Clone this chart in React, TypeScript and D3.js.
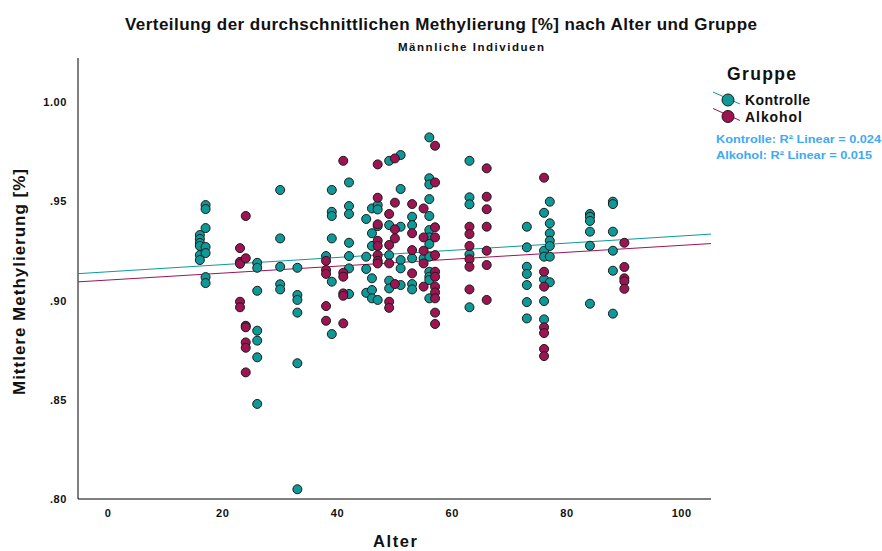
import React from "react";
import * as d3 from "d3";

// ---- data ----
const groupNames = ["Kontrolle", "Alkohol"];
const r2Labels = ["Kontrolle: R² Linear = 0.024", "Alkohol: R² Linear = 0.015"];

const controlAges = [16, 17, 26, 30, 33, 38, 39, 42, 45, 46, 47, 49, 51, 53, 55, 56, 63, 73, 76, 77, 84, 88];
const controlValues = [
  [0.933, 0.931, 0.929, 0.9275, 0.9229, 0.9204],
  [0.9481, 0.9461, 0.9365, 0.927, 0.9239, 0.9118, 0.9088],
  [0.919, 0.9165, 0.9049, 0.8848, 0.8798, 0.8714, 0.8479],
  [0.9557, 0.9313, 0.917, 0.9082, 0.9056],
  [0.9165, 0.9028, 0.9003, 0.8939, 0.8684, 0.8049],
  [0.9224],
  [0.9557, 0.9447, 0.9426, 0.9313, 0.9095, 0.8831],
  [0.9595, 0.9476, 0.9436, 0.9291, 0.9224, 0.9162, 0.9033],
  [0.9411, 0.9221, 0.9159, 0.9039],
  [0.9464, 0.9339, 0.9275, 0.9112, 0.9053, 0.9011],
  [0.9481, 0.9459, 0.9375, 0.9003],
  [0.9704, 0.938, 0.9229, 0.91, 0.9061],
  [0.9733, 0.9562, 0.9372, 0.9204, 0.9162, 0.9078],
  [0.9422, 0.938, 0.9213, 0.9083, 0.9056],
  [0.9213],
  [0.9822, 0.9616, 0.9585, 0.9511, 0.9426, 0.9355, 0.9318, 0.9285, 0.9221, 0.9145, 0.912, 0.9103, 0.9011],
  [0.9704, 0.952, 0.9485, 0.9233, 0.8966],
  [0.9372, 0.9268, 0.917, 0.9134, 0.9078, 0.8992, 0.891],
  [0.9442, 0.9251, 0.9221, 0.9107, 0.8997, 0.8905],
  [0.9498, 0.9389, 0.9339, 0.9301, 0.9275, 0.9221, 0.9092],
  [0.9436, 0.9422, 0.9401, 0.9347, 0.9276, 0.8984],
  [0.9498, 0.9486, 0.9347, 0.9251, 0.915, 0.8934],
];

const alcoholAges = [23, 24, 38, 41, 47, 49, 50, 53, 55, 57, 63, 66, 76, 90];
const alcoholValues = [
  [0.9264, 0.9195, 0.9185, 0.8994, 0.8966],
  [0.9426, 0.9213, 0.8873, 0.8865, 0.8789, 0.8762, 0.8638],
  [0.92, 0.9154, 0.9134, 0.8972, 0.8898],
  [0.9704, 0.914, 0.912, 0.9036, 0.9024, 0.8885],
  [0.9686, 0.9518, 0.9384, 0.9301, 0.9275, 0.9229, 0.92, 0.9187],
  [0.9436, 0.928, 0.9187, 0.8994, 0.8963],
  [0.9716, 0.9493, 0.9359, 0.9313, 0.9083],
  [0.9486, 0.9339, 0.9254, 0.9137],
  [0.9464, 0.9318, 0.9251, 0.9187, 0.907],
  [0.978, 0.9595, 0.9369, 0.9318, 0.9229, 0.9145, 0.912, 0.907, 0.9041, 0.9011, 0.8939, 0.8882],
  [0.9372, 0.9335, 0.9275, 0.9208, 0.917, 0.9056],
  [0.9666, 0.9523, 0.946, 0.9372, 0.9251, 0.9179, 0.9003],
  [0.9619, 0.9145, 0.907, 0.8865, 0.8836, 0.8756, 0.872],
  [0.9291, 0.9169, 0.9112, 0.9097, 0.9059],
];

// linear fit coefficients (intercept, slope) per group
const fitIntercepts = [0.91448, 0.91032];
const fitSlopes = [0.0001806, 0.0001749];

const xTicks = [0, 20, 40, 60, 80, 100];
const yTicks = [0.8, 0.85, 0.9, 0.95, 1.0];

// ---- style ----
const W = 882;
const H = 551;
const colors = ["#0f9898", "#9c1552"];
const font = "'Liberation Sans', Arial, sans-serif";
const r2Color = "#3fa9f5";
const r2Widths = [165, 156];
const legendWidths = [65, 57];

export default function App() {
  const x = d3.scaleLinear().domain([-5.24, 105.1]).range([78, 711]);
  const y = d3.scaleLinear().domain([0.8, 1.0222]).range([499, 58]);
  const [x0, x1] = x.domain();

  const series = [
    { ages: controlAges, values: controlValues },
    { ages: alcoholAges, values: alcoholValues },
  ];

  const fmtY = (v: number) => {
    const s = d3.format(".2f")(v);
    return s.startsWith("0") ? s.slice(1) : s;
  };

  return (
    <svg
      width={W}
      height={H}
      style={{ position: "absolute", left: 0, top: 0, background: "#fff" }}
      fontFamily={font}
    >
      <rect x={0} y={0} width={W} height={H} fill="#fff" />
      {/* titles */}
      <text x={125} y={30} fontSize={17} fontWeight="bold" fill="#111" textLength={632} lengthAdjust="spacing">
        Verteilung der durchschnittlichen Methylierung [%] nach Alter und Gruppe
      </text>
      <text x={398} y={51} fontSize={11.5} fontWeight="bold" fill="#111" textLength={146} lengthAdjust="spacing">
        Männliche Individuen
      </text>

      {/* axes */}
      <line x1={78} x2={78} y1={58} y2={499} stroke="#000" strokeWidth={1} />
      <line x1={78} x2={711} y1={499} y2={499} stroke="#000" strokeWidth={1} />
      {yTicks.map((t) => (
        <text key={t} x={67} y={y(t) + 4} textAnchor="end" fontSize={11} fontWeight="bold" fill="#111" letterSpacing={0.6}>
          {fmtY(t)}
        </text>
      ))}
      {xTicks.map((t) => (
        <text key={t} x={x(t)} y={517} textAnchor="middle" fontSize={11} fontWeight="bold" fill="#111" letterSpacing={0.6}>
          {t}
        </text>
      ))}
      <text x={373} y={547} fontSize={16.5} fontWeight="bold" fill="#111" textLength={44} lengthAdjust="spacing">
        Alter
      </text>
      <text
        transform={`translate(25,395) rotate(-90)`}
        fontSize={17}
        fontWeight="bold"
        fill="#111"
        textLength={226}
        lengthAdjust="spacing"
      >
        Mittlere Methylierung [%]
      </text>

      {/* fit lines */}
      {series.map((s, i) => {
        const pts = [x0, x1];
        const d = d3
          .line<number>()
          .x((a) => x(a))
          .y((a) => y(fitIntercepts[i] + fitSlopes[i] * a))(pts);
        return <path key={"fit" + i} d={d || ""} stroke={colors[i]} strokeWidth={1} fill="none" />;
      })}

      {/* points */}
      {series.map((s, i) =>
        s.ages.map((a, j) =>
          s.values[j].map((v, k) => (
            <circle
              key={`${i}-${j}-${k}`}
              cx={x(a)}
              cy={y(v)}
              r={4.5}
              fill={colors[i]}
              stroke="#1a1a1a"
              strokeWidth={1}
            />
          ))
        )
      )}

      {/* legend */}
      <text x={727} y={80} fontSize={17.5} fontWeight="bold" fill="#111" textLength={69} lengthAdjust="spacing">
        Gruppe
      </text>
      {groupNames.map((g, i) => {
        const cy = 100 + i * 16.5;
        return (
          <g key={g}>
            <line x1={713} y1={cy - 8} x2={740} y2={cy + 4} stroke={colors[i]} strokeWidth={1} />
            <circle cx={728} cy={cy} r={6} fill={colors[i]} stroke="#1a1a1a" strokeWidth={1} />
            <text x={745} y={cy + 5} fontSize={14} fontWeight="bold" fill="#111" textLength={legendWidths[i]} lengthAdjust="spacing">
              {g}
            </text>
          </g>
        );
      })}
      {r2Labels.map((t, i) => (
        <text
          key={t}
          x={716}
          y={143 + i * 16}
          fontSize={11}
          fontWeight="bold"
          fill={r2Color}
          textLength={r2Widths[i]}
          lengthAdjust="spacingAndGlyphs"
        >
          {t}
        </text>
      ))}
    </svg>
  );
}
